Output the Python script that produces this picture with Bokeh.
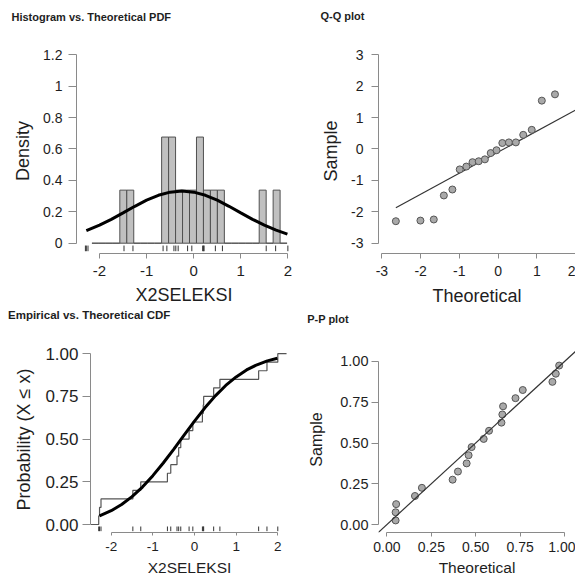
from bokeh.plotting import figure
from bokeh.layouts import column, row
from bokeh.models import FixedTicker, Range1d, Slope
from bokeh.core.properties import value
from bokeh.embed import file_html
from bokeh.resources import INLINE

FONT = "Liberation Sans"
AXIS_COLOR = "#8a8a8a"
TEXT_COLOR = "#1e1e1e"

# ---------------- data ----------------
sample = [-2.30, -2.28, -2.245, -1.48, -1.29, -0.65, -0.57, -0.42, -0.38, -0.33,
          -0.13, -0.04, 0.19, 0.21, 0.22, 0.46, 0.61, 1.54, 1.74, 2.00]

hist_left = [-2.161, -2.013, -1.865, -1.717, -1.569, -1.421, -1.273, -1.125, -0.977, -0.829,
             -0.681, -0.533, -0.385, -0.237, -0.089, 0.059, 0.207, 0.355, 0.503, 0.651,
             0.799, 0.947, 1.095, 1.243, 1.391, 1.539, 1.687, 1.835]
hist_right = hist_left[1:] + [1.983]
hist_density = [0, 0, 0, 0, 0.338, 0.338, 0, 0, 0, 0,
                0.676, 0.676, 0.338, 0.338, 0.338, 0.676, 0.338, 0.338, 0.338, 0,
                0, 0, 0, 0, 0.338, 0, 0.338, 0]

pdf_x = [-2.28, -2.0, -1.75, -1.5, -1.25, -1.0, -0.75, -0.5, -0.25, 0.0,
         0.25, 0.5, 0.75, 1.0, 1.25, 1.5, 1.75, 1.99]
pdf_y = [0.080, 0.115, 0.152, 0.193, 0.235, 0.274, 0.305, 0.325, 0.333, 0.325,
         0.305, 0.274, 0.235, 0.193, 0.152, 0.115, 0.083, 0.058]

cdf_x = [-2.28, -2.0, -1.75, -1.5, -1.25, -1.0, -0.75, -0.5, -0.25, 0.0,
         0.25, 0.5, 0.75, 1.0, 1.25, 1.5, 1.75, 1.99]
cdf_y = [0.051, 0.081, 0.117, 0.163, 0.219, 0.286, 0.360, 0.440, 0.523, 0.605,
         0.683, 0.753, 0.814, 0.864, 0.905, 0.935, 0.958, 0.973]

ecdf_levels = [0.05, 0.10, 0.15, 0.20, 0.25, 0.30, 0.35, 0.40, 0.45, 0.50,
               0.55, 0.60, 0.65, 0.70, 0.75, 0.80, 0.85, 0.90, 0.95, 1.00]
ecdf_x = [-2.50] + sample + [2.21]
ecdf_y = [0.0] + ecdf_levels + [1.0]

qq_theoretical = [-2.64, -2.005, -1.66, -1.40, -1.18, -0.99, -0.82, -0.66, -0.50, -0.34,
                  -0.19, -0.04, 0.11, 0.28, 0.46, 0.65, 0.87, 1.13, 1.47]
qq_sample = [-2.30, -2.28, -2.245, -1.48, -1.29, -0.65, -0.56, -0.42, -0.39, -0.33,
             -0.13, -0.04, 0.19, 0.21, 0.21, 0.45, 0.61, 1.54, 1.74]
qq_line_x = [-2.64, 2.0]
qq_line_y = [-1.87, 1.24]

pp_theoretical = [0.049, 0.049, 0.052, 0.158, 0.197, 0.370, 0.400, 0.449, 0.460, 0.477,
                  0.545, 0.575, 0.645, 0.650, 0.654, 0.724, 0.765, 0.932, 0.951, 0.970]
pp_sample = [0.025, 0.075, 0.125, 0.175, 0.225, 0.275, 0.325, 0.375, 0.425, 0.475,
             0.525, 0.575, 0.625, 0.675, 0.725, 0.775, 0.825, 0.875, 0.925, 0.975]

hist_xticks = [-2, -1, 0, 1, 2]
hist_xlabels = ["-2", "-1", "0", "1", "2"]
hist_yticks = [0, 0.2, 0.4, 0.6, 0.8, 1.0, 1.2]
hist_ylabels = ["0", "0.2", "0.4", "0.6", "0.8", "1", "1.2"]
qq_xticks = [-3, -2, -1, 0, 1, 2]
qq_xlabels = ["-3", "-2", "-1", "0", "1", "2"]
qq_yticks = [-3, -2, -1, 0, 1, 2, 3]
qq_ylabels = ["-3", "-2", "-1", "0", "1", "2", "3"]
prob_ticks = [0, 0.25, 0.5, 0.75, 1.0]
prob_labels = ["0.00", "0.25", "0.50", "0.75", "1.00"]

titles = ["Histogram vs. Theoretical PDF", "Q-Q plot",
          "Empirical vs. Theoretical CDF", "P-P plot"]


# ---------------- helpers ----------------
def make_panel(width, height, xr, yr, left, right, top, bottom):
    p = figure(width=width, height=height,
               x_range=Range1d(*xr), y_range=Range1d(*yr),
               output_backend="svg", toolbar_location=None, tools="",
               min_border_left=left, min_border_right=right,
               min_border_top=top, min_border_bottom=bottom)
    p.xgrid.visible = False
    p.ygrid.visible = False
    p.outline_line_color = None
    p.background_fill_color = "white"
    p.border_fill_color = "white"
    return p


def style_axis(ax, ticks, labels, bounds, tick_out, standoff, tick_size,
               label, label_size, label_standoff):
    ax.ticker = FixedTicker(ticks=ticks)
    ax.major_label_overrides = {t: s for t, s in zip(ticks, labels)}
    ax.bounds = bounds
    ax.axis_line_color = AXIS_COLOR
    ax.axis_line_width = 1
    ax.major_tick_line_color = AXIS_COLOR
    ax.minor_tick_line_color = None
    ax.major_tick_out = tick_out
    ax.major_tick_in = 0
    ax.major_label_standoff = standoff
    ax.major_label_text_font = FONT
    ax.major_label_text_font_size = tick_size
    ax.major_label_text_color = TEXT_COLOR
    ax.axis_label = label
    ax.axis_label_text_font = FONT
    ax.axis_label_text_font_size = label_size
    ax.axis_label_text_font_style = "normal"
    ax.axis_label_text_color = TEXT_COLOR
    ax.axis_label_standoff = label_standoff


def title_strip(width, height, text, x, y, size):
    # a thin, axis-less strip whose data units equal pixels (y counted downwards)
    s = figure(width=width, height=height, x_range=Range1d(0, width),
               y_range=Range1d(height, 0), output_backend="svg",
               toolbar_location=None, tools="", x_axis_type=None, y_axis_type=None,
               min_border_left=0, min_border_right=0, min_border_top=0,
               min_border_bottom=0)
    s.xgrid.visible = False
    s.ygrid.visible = False
    s.outline_line_color = None
    s.background_fill_color = "white"
    s.border_fill_color = "white"
    s.text(x=[x], y=[y], text=[text], text_font=value(FONT),
           text_font_size=value(size), text_font_style="bold",
           text_color=TEXT_COLOR, text_align="left", text_baseline="alphabetic")
    return s


# ---------------- panel 1: histogram vs theoretical pdf ----------------
p1 = make_panel(295, 282, (-2.489, 2.077), (-0.0656, 1.240), 76, 4, 22, 55)
p1.quad(left=hist_left, right=hist_right, bottom=0, top=hist_density,
        fill_color="#c0c0c0", line_color="#505050", line_width=1)
p1.line(pdf_x, pdf_y, line_color="black", line_width=3)
p1.segment(x0=sample, y0=-0.015, x1=sample, y1=-0.051, line_color="#333333", line_width=1)
style_axis(p1.xaxis[0], hist_xticks, hist_xlabels, (-2, 2), 5, 7, "15px",
           "X2SELEKSI", "18px", 6)
style_axis(p1.yaxis[0], hist_yticks, hist_ylabels, (0, 1.2), 8, 6, "14px",
           "Density", "18px", 7)

# ---------------- panel 2: Q-Q plot ----------------
p2 = make_panel(280, 282, (-3.088, 2.0), (-3.328, 3.20), 83, 0, 22, 55)
p2.line(qq_line_x, qq_line_y, line_color="#333333", line_width=1.2)
p2.scatter(qq_theoretical, qq_sample, size=7, fill_color="#a9a9a9",
           line_color="#555555", line_width=1)
style_axis(p2.xaxis[0], qq_xticks, qq_xlabels, (-3, 2), 5, 7, "14px",
           "Theoretical", "18px", 7)
style_axis(p2.yaxis[0], qq_yticks, qq_ylabels, (-3, 3), 7, 8, "14px",
           "Sample", "18px", 7)

# ---------------- panel 3: empirical vs theoretical cdf ----------------
p3 = make_panel(295, 248, (-2.497, 2.257), (-0.0468, 1.042), 90, 7, 16, 46)
p3.step(ecdf_x, ecdf_y, mode="after", line_color="#555555", line_width=1.2)
p3.line(cdf_x, cdf_y, line_color="black", line_width=3)
p3.segment(x0=sample, y0=-0.0117, x1=sample, y1=-0.039, line_color="#333333", line_width=1)
style_axis(p3.xaxis[0], hist_xticks, hist_xlabels, (-2, 2), 3, 6, "13.5px",
           "X2SELEKSI", "15.5px", 5)
style_axis(p3.yaxis[0], prob_ticks, prob_labels, (0, 1), 8, 4, "17px",
           "Probability (X \u2264 x)", "18px", 8)

# ---------------- panel 4: P-P plot ----------------
p4 = make_panel(280, 248, (-0.0474, 1.062), (-0.049, 1.092), 83, 0, 16, 46)
p4.add_layout(Slope(gradient=1, y_intercept=0, line_color="#333333", line_width=1.2))
p4.scatter(pp_theoretical, pp_sample, size=7, fill_color="#a9a9a9",
           line_color="#555555", line_width=1)
style_axis(p4.xaxis[0], prob_ticks, prob_labels, (0, 1), 4, 5, "14px",
           "Theoretical", "15.5px", 4)
style_axis(p4.yaxis[0], prob_ticks, prob_labels, (0, 1), 7, 3, "14.5px",
           "Sample", "16px", 12)

# ---------------- panel titles ----------------
t1 = title_strip(295, 26, titles[0], 11, 16.2, "11px")
t2 = title_strip(280, 26, titles[1], 25, 15.8, "11px")
t3 = title_strip(295, 22, titles[2], 7.5, 6.8, "11.5px")
t4 = title_strip(280, 22, titles[3], 11.7, 10.8, "11px")

layout = column(row(t1, t2), row(p1, p2), row(t3, t4), row(p3, p4))

with open("out.html", "w") as f:
    f.write(file_html(layout, INLINE))
